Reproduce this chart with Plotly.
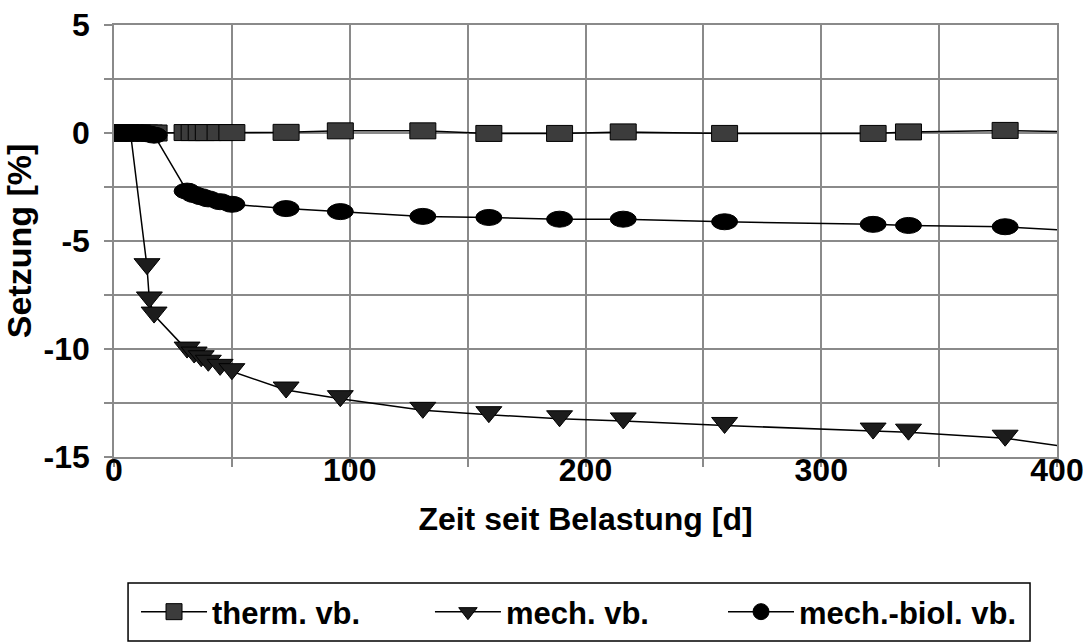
import plotly.graph_objects as go

# ---- data ----
therm_x = [0, 1, 3, 5, 7, 10, 13, 15, 17, 31, 34, 37, 40, 45, 50, 73, 96, 131, 159, 189, 216, 259, 322, 337, 378, 420]
therm_y = [0, 0, 0, 0, 0, 0, 0, 0, 0, 0.02, 0.02, 0.02, 0.02, 0.02, 0.02, 0.03, 0.1, 0.1, -0.02, -0.02, 0.05, -0.02, -0.02, 0.05, 0.12, 0.02]

mech_x = [0, 1, 3, 5, 7, 14, 15, 17, 31, 34, 37, 40, 45, 50, 73, 96, 131, 159, 189, 216, 259, 322, 337, 378, 420]
mech_y = [0, 0, 0, 0, 0, -6.19, -7.73, -8.43, -10.05, -10.28, -10.45, -10.66, -10.85, -11.05, -11.9, -12.3, -12.84, -13.04, -13.23, -13.33, -13.54, -13.8, -13.85, -14.13, -14.78]

mb_x = [0, 1, 3, 5, 7, 10, 13, 15, 17, 31, 34, 37, 40, 45, 50, 73, 96, 131, 159, 189, 216, 259, 322, 337, 378, 420]
mb_y = [0, 0, 0, 0, 0, 0, 0, -0.05, -0.1, -2.69, -2.85, -2.95, -3.05, -3.18, -3.3, -3.5, -3.64, -3.86, -3.91, -3.99, -3.99, -4.11, -4.23, -4.28, -4.34, -4.61]

series_names = ["therm. vb.", "mech. vb.", "mech.-biol. vb."]
x_tickvals = [0, 100, 200, 300, 400]
x_ticktext = ["0", "100", "200", "300", "400"]
y_tickvals = [5, 0, -5, -10, -15]
y_ticktext = ["5", "0", "-5", "-10", "-15"]

# ---- styles ----
FONT = "Liberation Sans, Arial, sans-serif"
FS = 32
styles = [
    dict(symbol="square", kind="rect", fill="#3c3c3c"),
    dict(symbol="triangle-down", kind="tri", fill="#1c1c1c"),
    dict(symbol="circle", kind="circle", fill="#000000"),
]
HW, HH = 13, 8  # half width / half height of the stretched markers (px)
X_MAX = 400

fig = go.Figure()
shapes = []
legend_ids = ["legend", "legend2", "legend3"]
data = [(therm_x, therm_y), (mech_x, mech_y), (mb_x, mb_y)]

for (xs, ys), name, st, lg in zip(data, series_names, styles, legend_ids):
    fig.add_trace(go.Scatter(x=xs, y=ys, mode="lines", line=dict(color="black", width=1.5),
                             showlegend=False, hoverinfo="skip"))
    fig.add_trace(go.Scatter(x=[None], y=[None], mode="lines+markers", name=name, legend=lg,
                             line=dict(color="black", width=1.5),
                             marker=dict(symbol=st["symbol"], size=16, color=st["fill"],
                                         line=dict(color="black", width=1))))
    for x, y in zip(xs, ys):
        if x > X_MAX:
            continue
        base = dict(xref="x", yref="y", xsizemode="pixel", ysizemode="pixel",
                    xanchor=x, yanchor=y, layer="above",
                    fillcolor=st["fill"], line=dict(color="black", width=1))
        if st["kind"] == "tri":
            base.update(type="path", path=f"M{-HW},{HH} L{HW},{HH} L0,{-HH} Z")
        else:
            base.update(type=st["kind"], x0=-HW, x1=HW, y0=-HH, y1=HH)
        shapes.append(base)

# legend frame (paper coordinates)
shapes.append(dict(type="rect", xref="paper", yref="paper", x0=0.0149, x1=0.9714,
                   y0=-0.4259, y1=-0.2917, line=dict(color="black", width=1.5),
                   fillcolor="rgba(0,0,0,0)", layer="above"))

GRID = "#8a8a8a"
tickfont = dict(family=FONT, size=FS, color="black", weight="bold")
titlefont = dict(family=FONT, size=FS, color="black", weight="bold")
axis_common = dict(showline=True, mirror=True, linecolor=GRID, linewidth=1.5,
                   showgrid=True, gridcolor=GRID, gridwidth=1.5, zeroline=False,
                   ticks="outside", ticklen=8, tickcolor=GRID, tickwidth=1.5,
                   tickfont=tickfont, automargin=False, ticklabeloverflow="allow")

fig.update_layout(
    width=1083, height=643,
    margin=dict(l=114, r=26, t=25, b=186),
    paper_bgcolor="white", plot_bgcolor="white",
    shapes=shapes,
    xaxis=dict(range=[0, 400], tickvals=x_tickvals, ticktext=x_ticktext,
               ticklabelstandoff=-24,
               minor=dict(dtick=50, showgrid=True, gridcolor=GRID, gridwidth=1.5,
                          ticks="outside", ticklen=8, tickcolor=GRID, tickwidth=1.5),
               title=dict(text="Zeit seit Belastung [d]", standoff=20, font=titlefont),
               **axis_common),
    yaxis=dict(range=[-15, 5], tickvals=y_tickvals, ticktext=y_ticktext,
               ticklabelstandoff=8,
               minor=dict(dtick=2.5, showgrid=True, gridcolor=GRID, gridwidth=1.5,
                          ticks="outside", ticklen=8, tickcolor=GRID, tickwidth=1.5),
               title=dict(text="Setzung [%]", standoff=2,
                          font=dict(family=FONT, size=34, color="black", weight="bold")),
               **axis_common),
)

leg_common = dict(orientation="h", yanchor="middle", y=0.0482, xanchor="left",
                  xref="container", yref="container", itemwidth=66,
                  bgcolor="rgba(0,0,0,0)", borderwidth=0,
                  font=dict(family=FONT, size=31, color="black", weight="bold"))
fig.update_layout(
    legend=dict(x=0.1256, **leg_common),
    legend2=dict(x=0.3970, **leg_common),
    legend3=dict(x=0.6676, **leg_common),
)

fig.write_html("out.html", config={"displayModeBar": False},
               post_script="document.body.style.margin='0px';document.body.style.overflow='hidden';")
